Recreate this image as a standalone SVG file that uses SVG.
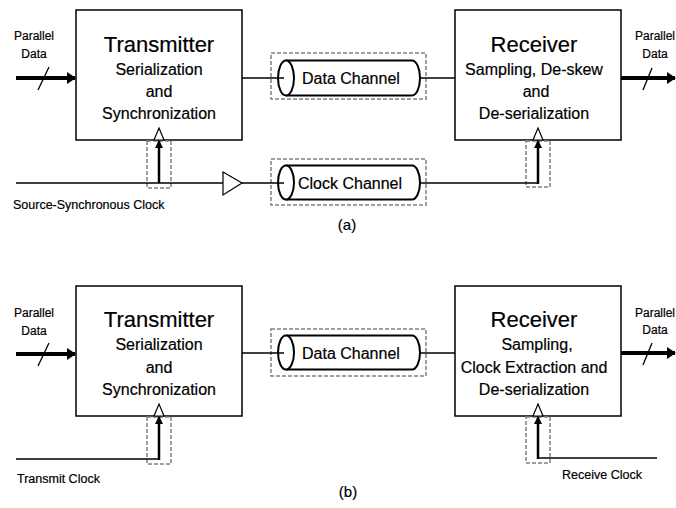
<svg xmlns="http://www.w3.org/2000/svg" width="676" height="508" viewBox="0 0 676 508">
  <style>
    .box { fill: #fff; stroke: #000; stroke-width: 1.5; }
    .dash { fill: none; stroke: #808080; stroke-width: 1.5; stroke-dasharray: 4 2; }
    .wire { fill: none; stroke: #000; stroke-width: 1.3; }
    .bus { fill: none; stroke: #000; stroke-width: 4; }
    .clk { fill: none; stroke: #000; stroke-width: 2.5; }
    .cyl { fill: #fff; stroke: #000; stroke-width: 2; }
    .tri { fill: #fff; stroke: #000; stroke-width: 1.2; }
    text { font-family: "Liberation Sans", Arial, sans-serif; fill: #000; text-anchor: middle; stroke: #000; stroke-width: 0.2; }
    .title { font-size: 22px; }
    .sub { font-size: 16px; }
    .chan { font-size: 16px; text-anchor: start; }
    .small { font-size: 12px; }
    .lbl { font-size: 12.5px; text-anchor: start; }
    .cap { font-size: 15px; }
  </style>
  <defs>
    <marker id="busHead" markerUnits="userSpaceOnUse" markerWidth="10" markerHeight="12" refX="8" refY="6" orient="auto">
      <path d="M0,0 L9,6 L0,12 Z" fill="#000"/>
    </marker>
    <marker id="clkHead" markerUnits="userSpaceOnUse" markerWidth="8" markerHeight="9" refX="7" refY="4" orient="auto">
      <path d="M0,0 L8,4 L0,8 Z" fill="#000"/>
    </marker>
  </defs>

  <!-- ===== (a) source-synchronous link ===== -->
  <g id="tx-a">
    <rect class="box" x="76" y="10" width="166" height="130"/>
    <text class="title" x="159" y="52">Transmitter</text>
    <text class="sub" x="159" y="75">Serialization</text>
    <text class="sub" x="159" y="97">and</text>
    <text class="sub" x="159" y="119">Synchronization</text>
  </g>
  <g id="rx-a">
    <rect class="box" x="455" y="10" width="166" height="130"/>
    <text class="title" x="534" y="52">Receiver</text>
    <text class="sub" x="534" y="75">Sampling, De-skew</text>
    <text class="sub" x="536" y="97">and</text>
    <text class="sub" x="534" y="119">De-serialization</text>
  </g>
  <g id="data-channel-a">
    <rect class="dash" x="271" y="53" width="155" height="46"/>
    <path class="cyl" d="M286,60.5 H412 A8,17.5 0 0 1 412,95.5 H286"/>
    <ellipse class="cyl" cx="286" cy="78" rx="8" ry="17.5"/>
    <text class="chan" x="302" y="84">Data Channel</text>
  </g>
  <g id="clock-channel-a">
    <rect class="dash" x="271" y="159" width="155" height="46"/>
    <path class="cyl" d="M286,165.5 H412 A8,17 0 0 1 412,199.5 H286"/>
    <ellipse class="cyl" cx="286" cy="182.5" rx="8" ry="17"/>
    <text class="chan" x="298" y="189">Clock Channel</text>
  </g>
  <g id="buffer-a">
    <path class="tri" d="M223,172 L242,183 L223,195 Z"/>
  </g>
  <g id="tx-clk-a">
    <rect class="dash" x="147" y="141" width="24" height="47"/>
    <path class="tri" d="M154,140 L159,128 L164,140 Z"/>
  </g>
  <g id="rx-clk-a">
    <rect class="dash" x="526" y="141" width="24" height="46"/>
    <path class="tri" d="M533,140 L538,128 L543,140 Z"/>
  </g>
  <g id="pin-a">
    <text class="small" x="34" y="40">Parallel</text>
    <text class="small" x="34" y="58">Data</text>
  </g>
  <g id="pout-a">
    <text class="small" x="655" y="40">Parallel</text>
    <text class="small" x="655" y="58">Data</text>
  </g>

  <g id="connectors-a">
    <line class="bus" x1="16" y1="78" x2="75" y2="78" marker-end="url(#busHead)"/>
    <line class="wire" x1="38" y1="90" x2="49" y2="67"/>
    <line class="bus" x1="621" y1="78" x2="675" y2="78" marker-end="url(#busHead)"/>
    <line class="wire" x1="643" y1="90" x2="652" y2="68"/>
    <line class="wire" x1="242" y1="78" x2="284" y2="78"/>
    <line class="wire" x1="420" y1="78" x2="455" y2="78"/>
    <line class="wire" x1="16" y1="183" x2="223" y2="183"/>
    <line class="wire" x1="242" y1="183" x2="284" y2="183"/>
    <line class="clk" x1="159" y1="183" x2="159" y2="141" marker-end="url(#clkHead)"/>
    <line class="wire" x1="420" y1="183" x2="538" y2="183"/>
    <line class="clk" x1="538" y1="184" x2="538" y2="141" marker-end="url(#clkHead)"/>
  </g>
  <text class="lbl" x="13" y="209">Source-Synchronous Clock</text>
  <text class="cap" x="347" y="230">(a)</text>

  <!-- ===== (b) embedded-clock link ===== -->
  <g id="tx-b">
    <rect class="box" x="76" y="286" width="166" height="130"/>
    <text class="title" x="159" y="327">Transmitter</text>
    <text class="sub" x="159" y="350">Serialization</text>
    <text class="sub" x="159" y="373">and</text>
    <text class="sub" x="159" y="395">Synchronization</text>
  </g>
  <g id="rx-b">
    <rect class="box" x="455" y="286" width="166" height="130"/>
    <text class="title" x="534" y="327">Receiver</text>
    <text class="sub" x="537" y="350">Sampling,</text>
    <text class="sub" x="534" y="373">Clock Extraction and</text>
    <text class="sub" x="534" y="395">De-serialization</text>
  </g>
  <g id="data-channel-b">
    <rect class="dash" x="271" y="329" width="155" height="47"/>
    <path class="cyl" d="M286,335.5 H412 A8,17 0 0 1 412,369.5 H286"/>
    <ellipse class="cyl" cx="286" cy="352.5" rx="8" ry="17"/>
    <text class="chan" x="302" y="359">Data Channel</text>
  </g>
  <g id="tx-clk-b">
    <rect class="dash" x="147" y="417" width="24" height="47"/>
    <path class="tri" d="M154,416 L159,404 L164,416 Z"/>
  </g>
  <g id="rx-clk-b">
    <rect class="dash" x="526" y="417" width="24" height="46"/>
    <path class="tri" d="M533,416 L538,404 L543,416 Z"/>
  </g>
  <g id="pin-b">
    <text class="small" x="34" y="317">Parallel</text>
    <text class="small" x="34" y="335">Data</text>
  </g>
  <g id="pout-b">
    <text class="small" x="655" y="317">Parallel</text>
    <text class="small" x="655" y="334">Data</text>
  </g>

  <g id="connectors-b">
    <line class="bus" x1="16" y1="354" x2="75" y2="354" marker-end="url(#busHead)"/>
    <line class="wire" x1="38" y1="366" x2="49" y2="343"/>
    <line class="bus" x1="621" y1="353" x2="675" y2="353" marker-end="url(#busHead)"/>
    <line class="wire" x1="643" y1="365" x2="652" y2="343"/>
    <line class="wire" x1="242" y1="353" x2="284" y2="353"/>
    <line class="wire" x1="420" y1="353" x2="455" y2="353"/>
    <line class="wire" x1="16" y1="459" x2="159" y2="459"/>
    <line class="clk" x1="159" y1="460" x2="159" y2="417" marker-end="url(#clkHead)"/>
    <line class="wire" x1="538" y1="458" x2="657" y2="458"/>
    <line class="clk" x1="538" y1="459" x2="538" y2="417" marker-end="url(#clkHead)"/>
  </g>
  <text class="lbl" x="17" y="483">Transmit Clock</text>
  <text class="lbl" x="562" y="479">Receive Clock</text>
  <text class="cap" x="348" y="497">(b)</text>
</svg>
